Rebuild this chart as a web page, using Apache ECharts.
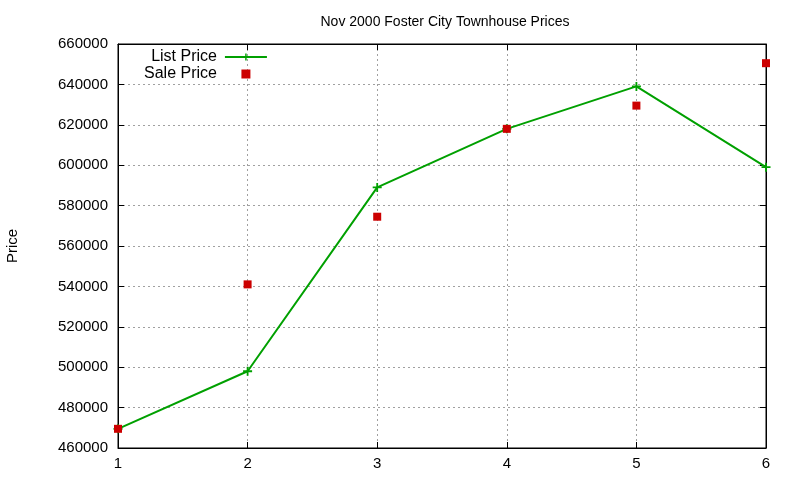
<!DOCTYPE html>
<html>
<head>
<meta charset="utf-8">
<script src="https://cdn.jsdelivr.net/npm/echarts@6/dist/echarts.min.js"></script>
<style>
  html, body { margin: 0; padding: 0; background: #fff; }
  #chart { width: 800px; height: 480px; }
</style>
</head>
<body>
<div id="chart"></div>
<script>
var houses = [1, 2, 3, 4, 5, 6];
var listPrice = [469500, 498000, 589000, 618000, 639000, 599000];
var salePrice = [469500, 541000, 574500, 618000, 629500, 650500];

var plusIcon = 'path://M4,0H6V4H10V6H6V10H4V6H0V4H4Z';
var squareIcon = 'path://M0,0H10V10H0Z';
var font = 'Liberation Sans, Arial, sans-serif';

var chart = echarts.init(document.getElementById('chart'));

var gridLine = { show: true, lineStyle: { color: '#a0a0a0', type: [2, 3], width: 1 } };
var border = { show: true, lineStyle: { color: '#000', width: 1 } };

var option = {
    animation: false,
    title: {
        text: 'Nov 2000 Foster City Townhouse Prices',
        left: 440, top: 10, textAlign: 'center',
        textStyle: { fontFamily: font, fontSize: 14, fontWeight: 'normal', color: '#000' }
    },
    legend: {
        orient: 'vertical',
        left: 139, top: 44,
        align: 'right',
        itemWidth: 42, itemHeight: 9, itemGap: 1,
        symbolKeepAspect: true,
        textStyle: { fontFamily: font, fontSize: 16, color: '#000', padding: [0, 3, 0, 0] },
        data: [
            { name: 'List Price' },
            { name: 'Sale Price', icon: squareIcon, itemStyle: { color: '#cc0000', opacity: 1 } }
        ]
    },
    grid: { left: 118, right: 34, top: 44, bottom: 32, outerBoundsMode: 'none', show: true, borderColor: '#000', borderWidth: 1 },
    xAxis: [{
        type: 'value', min: 1, max: 6, interval: 1,
        axisLine: border,
        axisTick: { inside: true, length: 6, lineStyle: { color: '#000' } },
        axisLabel: { fontFamily: font, fontSize: 15, color: '#000', margin: 8 },
        splitLine: gridLine
    }, {
        type: 'value', min: 1, max: 6, interval: 1, position: 'top',
        axisLine: border,
        axisTick: { inside: true, length: 6, lineStyle: { color: '#000' } },
        axisLabel: { show: false },
        splitLine: { show: false }
    }],
    yAxis: [{
        type: 'value', min: 460000, max: 660000, interval: 20000,
        name: 'Price', nameLocation: 'middle', nameGap: 98, nameRotate: 90,
        nameTextStyle: { fontFamily: font, fontSize: 15, color: '#000' },
        axisLine: border,
        axisTick: { inside: true, length: 6, lineStyle: { color: '#000' } },
        axisLabel: { fontFamily: font, fontSize: 15, color: '#000', margin: 10,
            formatter: function (v) { return String(v); } },
        splitLine: gridLine
    }, {
        type: 'value', min: 460000, max: 660000, interval: 20000, position: 'right',
        axisLine: border,
        axisTick: { inside: true, length: 6, lineStyle: { color: '#000' } },
        axisLabel: { show: false },
        splitLine: { show: false }
    }],
    series: [{
        name: 'List Price',
        type: 'line',
        data: houses.map(function (h, i) { return [h, listPrice[i]]; }),
        symbol: plusIcon, symbolSize: 9, showAllSymbol: true,
        lineStyle: { color: '#00a000', width: 2 },
        itemStyle: { color: '#00a000' },
        z: 3
    }, {
        name: 'Sale Price',
        type: 'scatter',
        data: houses.map(function (h, i) { return [h, salePrice[i]]; }),
        symbol: 'rect', symbolSize: 8,
        itemStyle: { color: '#cc0000', opacity: 1 },
        z: 4
    }]
};

chart.setOption(option);
</script>
</body>
</html>
